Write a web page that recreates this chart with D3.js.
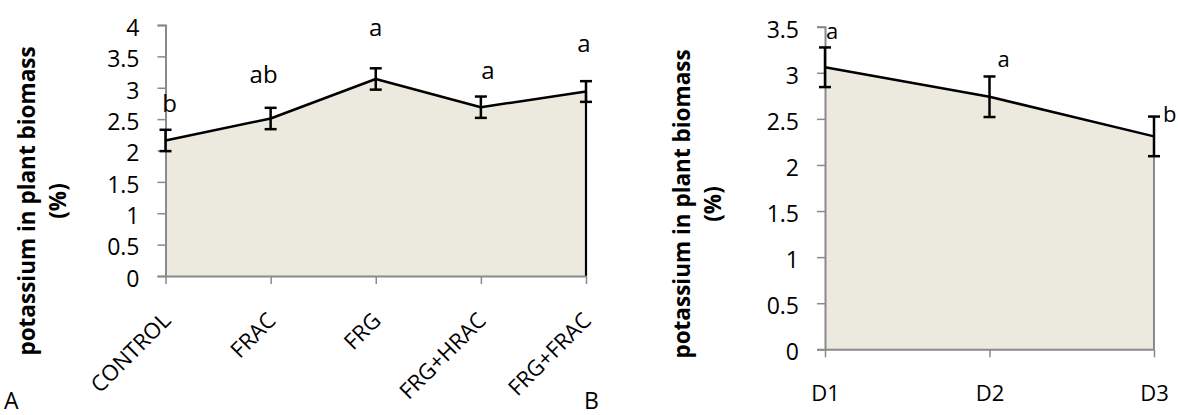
<!DOCTYPE html>
<html>
<head>
<meta charset="utf-8">
<script src="https://cdn.jsdelivr.net/npm/d3@7"></script>
<style>
  body { margin: 0; background: #fff; }
  text { font-family: "Open Sans", "Liberation Sans", sans-serif; fill: #000; }
</style>
</head>
<body>
<div id="chart"></div>
<script>
// panel A data
const treatments = ["CONTROL", "FRAC", "FRG", "FRG+HRAC", "FRG+FRAC"];
const potassiumA = [2.16, 2.51, 3.14, 2.69, 2.94];
const errorA = [0.17, 0.17, 0.17, 0.17, 0.165];
const lettersA = ["b", "ab", "a", "a", "a"];
const ticksA = [0, 0.5, 1, 1.5, 2, 2.5, 3, 3.5, 4];

// panel B data
const doses = ["D1", "D2", "D3"];
const potassiumB = [3.06, 2.74, 2.31];
const errorB = [0.215, 0.22, 0.215];
const lettersB = ["a", "a", "b"];
const ticksB = [0, 0.5, 1, 1.5, 2, 2.5, 3, 3.5];

const width = 1178, height = 415;

const svg = d3.select("#chart")
  .append("svg")
  .attr("xmlns", "http://www.w3.org/2000/svg")
  .attr("width", width)
  .attr("height", height);

svg.append("rect").attr("width", width).attr("height", height).attr("fill", "#fff");

function drawPanel(p) {
  const x = d3.scalePoint().domain(p.cats).range(p.xRange);
  const y = d3.scaleLinear().domain([0, d3.max(p.ticks)]).range(p.yRange);
  const rows = p.cats.map((c, i) => ({c: c, v: p.values[i], e: p.errors[i], l: p.letters[i]}));
  const g = svg.append("g");

  // filled area
  g.append("path")
    .datum(rows)
    .attr("fill", "#ECE9DF")
    .attr("d", d3.area().x(d => x(d.c)).y0(y(0)).y1(d => y(d.v)));

  // right edge of the area
  const last = rows[rows.length - 1];
  g.append("line")
    .attr("x1", x(last.c)).attr("x2", x(last.c))
    .attr("y1", y(last.v)).attr("y2", y(0))
    .attr("stroke", p.edgeColor).attr("stroke-width", p.edgeWidth);

  // y axis
  const yAxis = g.append("g")
    .attr("transform", "translate(" + p.xRange[0] + ",0)")
    .call(d3.axisLeft(y).tickValues(p.ticks).tickFormat(d3.format("~g")).tickSize(8).tickPadding(18));
  yAxis.select(".domain").attr("stroke", "#8a8a8a").attr("stroke-width", 2);
  yAxis.selectAll(".tick line").attr("stroke", "#8a8a8a").attr("stroke-width", 1.5);
  yAxis.selectAll(".tick text").style("font-size", "23px").attr("dy", "0.45em");

  // x axis
  const xAxis = g.append("g")
    .attr("transform", "translate(0," + y(0) + ")")
    .call(d3.axisBottom(x).tickSize(8).tickSizeOuter(0));
  xAxis.select(".domain").attr("stroke", "#8a8a8a").attr("stroke-width", 2);
  xAxis.selectAll(".tick line").attr("stroke", "#8a8a8a").attr("stroke-width", 1.5);
  if (p.rotate) {
    xAxis.selectAll(".tick text")
      .style("font-size", "22px")
      .attr("text-anchor", "end")
      .attr("y", 0).attr("dy", 0)
      .attr("transform", "translate(6,46) rotate(-45)");
  } else {
    xAxis.selectAll(".tick text")
      .style("font-size", "22px")
      .attr("y", 0).attr("dy", 0)
      .attr("transform", "translate(0,52)");
  }

  // top line
  g.append("path")
    .datum(rows)
    .attr("fill", "none")
    .attr("stroke", "#000")
    .attr("stroke-width", 2.5)
    .attr("stroke-linejoin", "round")
    .attr("d", d3.line().x(d => x(d.c)).y(d => y(d.v)));

  // error bars
  const eb = g.selectAll(".err").data(rows).enter().append("g")
    .attr("stroke", "#000").attr("stroke-width", 2.5);
  eb.append("line")
    .attr("x1", d => x(d.c)).attr("x2", d => x(d.c))
    .attr("y1", d => y(d.v + d.e)).attr("y2", d => y(d.v - d.e));
  eb.append("line")
    .attr("x1", d => x(d.c) - 6).attr("x2", d => x(d.c) + 6)
    .attr("y1", d => y(d.v + d.e)).attr("y2", d => y(d.v + d.e));
  eb.append("line")
    .attr("x1", d => x(d.c) - 6).attr("x2", d => x(d.c) + 6)
    .attr("y1", d => y(d.v - d.e)).attr("y2", d => y(d.v - d.e));

  // significance letters
  g.selectAll(".letter").data(rows).enter().append("text")
    .attr("x", (d, i) => x(d.c) + p.nudge[i][0])
    .attr("y", (d, i) => y(d.v + d.e) + p.nudge[i][1])
    .attr("text-anchor", p.letterAnchor)
    .style("font-size", p.letterSize)
    .text(d => d.l);

  // y title
  const t = g.append("text")
    .attr("transform", "translate(" + p.titleX + "," + p.titleY + ") rotate(-90)")
    .attr("text-anchor", "middle")
    .style("font-size", "22.5px")
    .style("font-weight", "bold");
  t.append("tspan").attr("x", 0).attr("y", 0).text("potassium in plant biomass");
  t.append("tspan").attr("x", 0).attr("y", 31).text("(%)");

  // panel letter
  g.append("text")
    .attr("x", p.tagPos[0]).attr("y", p.tagPos[1])
    .style("font-size", "23px")
    .text(p.tag);
}

drawPanel({
  cats: treatments, values: potassiumA, errors: errorA, letters: lettersA, ticks: ticksA,
  xRange: [165.5, 586], yRange: [276, 25],
  edgeColor: "#000", edgeWidth: 2.2, rotate: true,
  letterAnchor: "middle", letterSize: "24px",
  nudge: [[4, -18], [-7, -25], [0, -32], [7, -18], [-2, -29]],
  titleX: 35, titleY: 201, tag: "A", tagPos: [4, 409]
});

drawPanel({
  cats: doses, values: potassiumB, errors: errorB, letters: lettersB, ticks: ticksB,
  xRange: [825, 1154], yRange: [349.3, 26.7],
  edgeColor: "#444", edgeWidth: 1.2, rotate: false,
  letterAnchor: "start", letterSize: "22px",
  nudge: [[1, -8], [8, -9], [9, 5]],
  titleX: 690, titleY: 204, tag: "B", tagPos: [584, 409]
});
</script>
</body>
</html>
